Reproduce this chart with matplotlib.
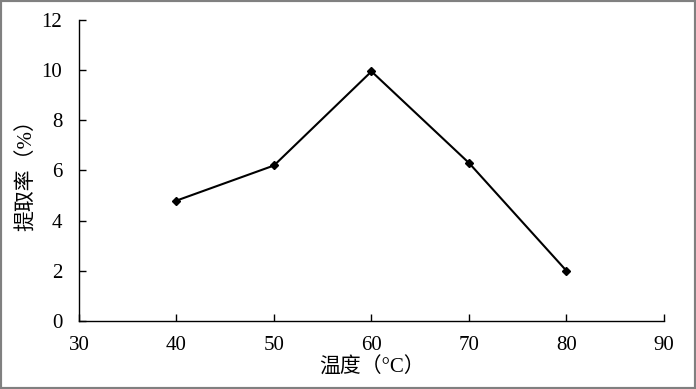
import matplotlib
matplotlib.use("Agg")
import matplotlib.pyplot as plt
from matplotlib.patches import Rectangle

plt.rcParams["font.family"] = ["Liberation Serif", "Noto Sans CJK SC"]

temperature = [40, 50, 60, 70, 80]
extraction = [4.8, 6.2, 9.95, 6.3, 2.0]
x_ticks = [30, 40, 50, 60, 70, 80, 90]
y_ticks = [0, 2, 4, 6, 8, 10, 12]

fig = plt.figure(figsize=(6.96, 3.89), dpi=100)
ax = fig.add_axes([0.1135, 0.1748, 0.8405, 0.7738])

ax.plot(temperature, extraction, color="black", lw=1.5, marker="D", ms=4.5)

ax.set_xlim(30, 90)
ax.set_ylim(0, 12)
ax.set_xticks(x_ticks)
ax.set_yticks(y_ticks)
for s in ("top", "right"):
    ax.spines[s].set_visible(False)
for s in ("left", "bottom"):
    ax.spines[s].set_linewidth(1.0)
ax.tick_params(direction="in", length=5, width=1.0, labelsize=15)
ax.tick_params(axis="x", pad=11)
ax.tick_params(axis="y", pad=12)
ax.set_xlabel("温度（°C）", fontsize=15, labelpad=2)
ax.set_ylabel("提取率（%）", fontsize=15, labelpad=3)

fig.patches.append(Rectangle((0, 0), 1, 1, transform=fig.transFigure,
                             fill=False, edgecolor="#808080", lw=3))

fig.savefig("out.png", dpi=100)
